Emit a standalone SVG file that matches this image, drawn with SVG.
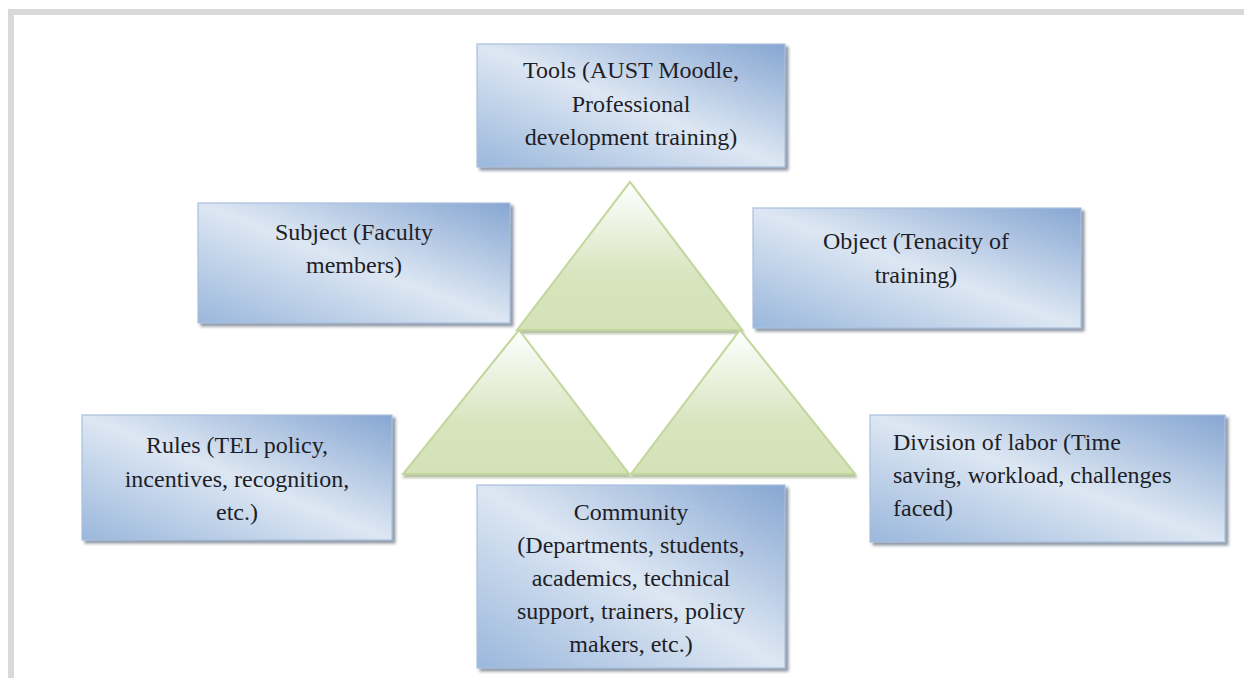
<svg xmlns="http://www.w3.org/2000/svg" width="1244" height="678" viewBox="0 0 1244 678">
<defs>
<linearGradient id="boxGrad" x1="1" y1="0" x2="0" y2="1">
<stop offset="0" stop-color="#86a6d2"/>
<stop offset="0.5" stop-color="#dde7f3"/>
<stop offset="1" stop-color="#9ab7dc"/>
</linearGradient>
<linearGradient id="triGrad" x1="0" y1="0" x2="0" y2="1">
<stop offset="0" stop-color="#ffffff"/>
<stop offset="0.65" stop-color="#d7e4bd"/>
<stop offset="1" stop-color="#d4e2b8"/>
</linearGradient>
<filter id="shadow" x="-5%" y="-5%" width="115%" height="120%">
<feDropShadow dx="3" dy="3" stdDeviation="1.5" flood-color="#6b7686" flood-opacity="0.75"/>
</filter>
<filter id="triShadow" x="-5%" y="-5%" width="110%" height="115%">
<feDropShadow dx="1" dy="3" stdDeviation="1" flood-color="#8a9a70" flood-opacity="0.6"/>
</filter>
</defs>
<style>
.box{fill:url(#boxGrad);stroke:#a9c0de;stroke-width:1.2;filter:url(#shadow);}
.tri{fill:url(#triGrad);stroke:#c3d69b;stroke-width:2;stroke-linejoin:miter;filter:url(#triShadow);}
.t{font-family:"Liberation Serif","Times New Roman",serif;font-size:24px;fill:#1e1e28;}
.c{text-anchor:middle;}
.frame{fill:#d9d9d9;}
</style>
<rect width="1244" height="678" fill="#ffffff"/>
<rect class="frame" x="8" y="9" width="1236" height="6"/>
<rect class="frame" x="8" y="9" width="6" height="669"/>

<g id="triangles">
<polygon class="tri" points="630,182 742,330 517,330"/>
<polygon class="tri" points="519,330 629,474 403,474"/>
<polygon class="tri" points="740,330 855,474 631,474"/>
</g>

<g id="tools">
<rect class="box" x="477" y="44" width="308" height="123"/>
<text class="t c" x="631" y="78">Tools (AUST Moodle,</text>
<text class="t c" x="631" y="112">Professional</text>
<text class="t c" x="631" y="145">development training)</text>
</g>

<g id="subject">
<rect class="box" x="198" y="203" width="312" height="120"/>
<text class="t c" x="354" y="240">Subject (Faculty</text>
<text class="t c" x="354" y="273">members)</text>
</g>

<g id="object">
<rect class="box" x="753" y="208" width="328" height="120"/>
<text class="t c" x="916" y="249">Object (Tenacity of</text>
<text class="t c" x="916" y="283">training)</text>
</g>

<g id="rules">
<rect class="box" x="82" y="415" width="310" height="125"/>
<text class="t c" x="237" y="453">Rules (TEL policy,</text>
<text class="t c" x="237" y="487">incentives, recognition,</text>
<text class="t c" x="237" y="520">etc.)</text>
</g>

<g id="community">
<rect class="box" x="477" y="485" width="308" height="183"/>
<text class="t c" x="631" y="520">Community</text>
<text class="t c" x="631" y="553">(Departments, students,</text>
<text class="t c" x="631" y="586">academics, technical</text>
<text class="t c" x="631" y="619">support, trainers, policy</text>
<text class="t c" x="631" y="652">makers, etc.)</text>
</g>

<g id="division">
<rect class="box" x="870" y="415" width="355" height="127"/>
<text class="t" x="893" y="450">Division of labor (Time</text>
<text class="t" x="893" y="483">saving, workload, challenges</text>
<text class="t" x="893" y="516">faced)</text>
</g>

<g id="connectors"/>
</svg>
